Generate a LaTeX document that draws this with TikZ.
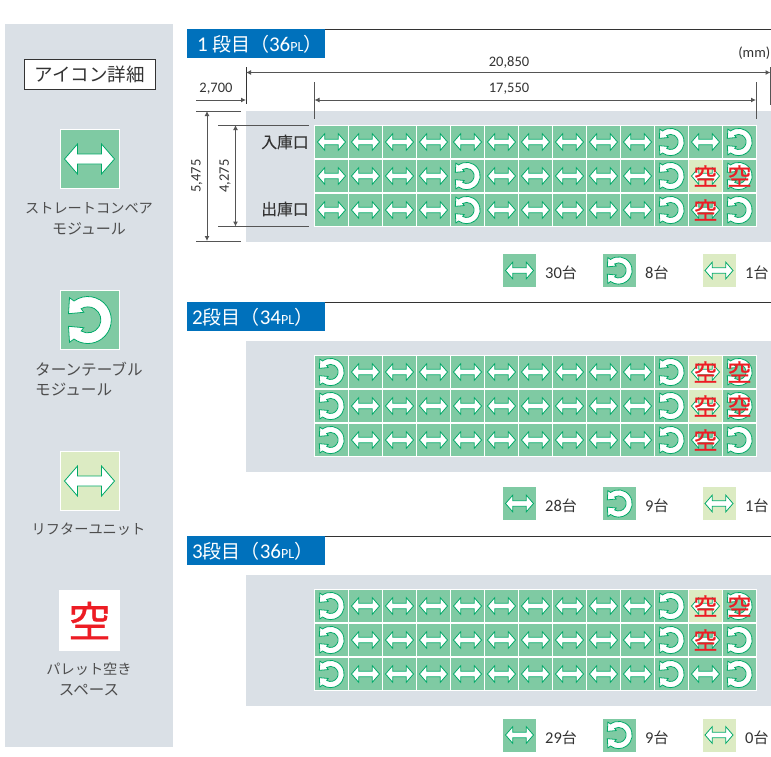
\documentclass[tikz,border=0pt]{standalone}
\usepackage{fontspec}
\setmainfont{Noto Sans CJK JP}
\newfontfamily\numf{Carlito}
\newfontfamily\kuf[FakeBold=0.8]{Noto Sans CJK JP}
\newfontfamily\medf[FakeBold=0.15]{Noto Sans CJK JP}
\usetikzlibrary{arrows.meta}
\definecolor{panel}{HTML}{DAE0E6}
\definecolor{modgreen}{HTML}{7FCAA3}
\definecolor{edgegreen}{HTML}{00A968}
\definecolor{liftgreen}{HTML}{DCEBC3}
\definecolor{headblue}{HTML}{0071BC}
\definecolor{kured}{HTML}{ED1C24}
\definecolor{ink}{HTML}{333333}
\definecolor{softink}{HTML}{4D4D4D}
\definecolor{dimline}{HTML}{555555}
\tikzset{
  iconline/.style={draw=edgegreen,fill=white,line width=0.8pt,line join=miter},
  txt/.style={inner sep=0pt,text=ink},
  sidelabel/.style={inner sep=0pt,text=softink,font=\fontsize{14.2}{16}\selectfont},
  dimtext/.style={inner sep=0pt,text=ink,font=\numf\fontsize{14.5}{16}\selectfont},
  countlabel/.style={inner sep=0pt,text=ink,anchor=west,font=\fontsize{15}{17}\selectfont},
  headbox/.style={fill=headblue,draw=none,inner sep=0pt,anchor=north west,minimum width=138pt,minimum height=29pt},
  headtext/.style={inner sep=0pt,text=white,anchor=west,font=\fontsize{19}{21}\selectfont},
  dimrule/.style={draw=dimline,line width=1pt},
  dimarrow/.style={draw=dimline,line width=1pt,{Latex[length=5pt,width=5pt]}-{Latex[length=5pt,width=5pt]}},
}
\newcommand\plate[4]{\fill[#1] ({#2-#4},{#3-#4}) rectangle ({#2+#4},{#3+#4});}
\newcommand\sarrow[3]{\path[iconline,shift={(#1,#2)},scale=#3]
  (-25,0) -- (-12,-15) -- (-12,-5) -- (12,-5) -- (12,-15) -- (25,0) -- (12,15) -- (12,5) -- (-12,5) -- (-12,15) -- cycle;}
\newcommand\tarrow[3]{\path[iconline,shift={(#1,#2)},scale=#3]
  (-20,-22.3) -- (-15.5,-19) arc[start angle=234,end angle=486,radius=23.5]
  -- (-20,22.3) -- (-21,6.3) -- (-5.7,7.7) -- (-8.3,11)
  arc[start angle=481,end angle=239,radius=13]
  -- (-5.7,-7.7) -- (-21,-6.3) -- cycle;}
\newcommand\kuchar[3]{\node[inner sep=0pt,text=kured,font=\kuf\fontsize{#3}{#3}\selectfont] at (#1,#2) {空};}
% small cells
\newcommand\cellS[2]{\plate{modgreen}{#1}{#2}{16.3}\sarrow{#1}{#2}{0.56}}
\newcommand\cellT[2]{\plate{modgreen}{#1}{#2}{16.3}\tarrow{#1}{#2}{0.58}}
\newcommand\cellL[2]{\plate{liftgreen}{#1}{#2}{16.3}\sarrow{#1}{#2}{0.56}}
\newcommand\cellSK[2]{\cellS{#1}{#2}\kuchar{#1}{#2}{24}}
\newcommand\cellTK[2]{\cellT{#1}{#2}\kuchar{#1}{#2}{24}}
\newcommand\cellLK[2]{\cellL{#1}{#2}\kuchar{#1}{#2}{24}}
% one row of 13 cells: y centre, list of types
\newcommand\gridrow[2]{\foreach \t [count=\c from 0] in {#2} {
  \pgfmathsetmacro\cx{331.5+34*\c}
  \csname cell\t\endcsname{\cx}{#1}}}
\begin{document}
\begin{tikzpicture}[x=1pt,y=-1pt]
\useasboundingbox (0,0) rectangle (771,756);
\fill[white] (0,0) rectangle (771,756);
% side panel
\fill[panel] (5,24) rectangle (173,747);
\node[draw=ink,line width=0.8pt,fill=white,minimum width=131pt,minimum height=30pt,inner sep=0pt,text=ink,font=\fontsize{18.5}{20}\selectfont] (icontitle) at (89.5,74) {アイコン詳細};
\fill[white] (59.5,129) rectangle (119.5,189);
\plate{modgreen}{89.5}{159}{29}\sarrow{89.5}{159}{1}
\node[sidelabel] (labA) at (89,208) {ストレートコンベア};
\node[sidelabel,font=\fontsize{15}{16}\selectfont] (labB) at (89,229) {モジュール};
\fill[white] (59.5,290) rectangle (119.5,350);
\plate{modgreen}{89.5}{320}{29}\tarrow{89.5}{320}{1}
\node[sidelabel,anchor=west,font=\fontsize{15.6}{16}\selectfont] (labC) at (35,369) {ターンテーブル};
\node[sidelabel,anchor=west,font=\fontsize{15.6}{16}\selectfont] (labD) at (35,390) {モジュール};
\fill[white] (59.5,451) rectangle (119.5,511);
\plate{liftgreen}{89.5}{481}{29}\sarrow{89.5}{481}{1}
\node[sidelabel] (labE) at (88.5,529) {リフターユニット};
\fill[white] (59,590) rectangle (120,651);
\kuchar{89.5}{620.5}{42}
\node[sidelabel] (labF) at (89,669) {パレット空き};
\node[sidelabel,font=\fontsize{15.5}{16}\selectfont] (labG) at (89,690) {スペース};
% section bands
\fill[panel] (246,111) rectangle (771,242);
\fill[panel] (246,341) rectangle (771,472);
\fill[panel] (246,575) rectangle (771,706);
% section headers
\draw[ink,line width=1pt] (187,29.5) -- (771,29.5);
\draw[ink,line width=1pt] (187,302.5) -- (771,302.5);
\draw[ink,line width=1pt] (187,536.5) -- (771,536.5);
\node[headbox] (headA) at (187,29) {};
\node[headbox] (headB) at (187,302) {};
\node[headbox] (headC) at (187,536) {};
\node[headtext] (headAt) at (197,44) {{\numf\fontsize{21}{21}\selectfont 1} 段目（{\numf\fontsize{21}{21}\selectfont 36{\fontsize{14}{14}\selectfont PL}}）};
\node[headtext] (headBt) at (192,317) {{\numf\fontsize{21}{21}\selectfont 2}段目（{\numf\fontsize{21}{21}\selectfont 34{\fontsize{14}{14}\selectfont PL}}）};
\node[headtext] (headCt) at (192,551) {{\numf\fontsize{21}{21}\selectfont 3}段目（{\numf\fontsize{21}{21}\selectfont 36{\fontsize{14}{14}\selectfont PL}}）};
% grids
\fill[white] (314,125) rectangle (756.5,227);
\gridrow{142}{S,S,S,S,S,S,S,S,S,S,T,S,T}
\gridrow{176}{S,S,S,S,T,S,S,S,S,S,T,LK,TK}
\gridrow{210}{S,S,S,S,T,S,S,S,S,S,T,SK,T}
\fill[white] (314,355) rectangle (756.5,457);
\gridrow{372}{T,S,S,S,S,S,S,S,S,S,T,LK,TK}
\gridrow{406}{T,S,S,S,S,S,S,S,S,S,T,LK,TK}
\gridrow{440}{T,S,S,S,S,S,S,S,S,S,T,SK,T}
\fill[white] (314,589) rectangle (756.5,691);
\gridrow{606}{T,S,S,S,S,S,S,S,S,S,T,LK,TK}
\gridrow{640}{T,S,S,S,S,S,S,S,S,S,T,SK,T}
\gridrow{674}{T,S,S,S,S,S,S,S,S,S,T,S,T}
% dimensions
\coordinate (wa) at (246,67); \coordinate (wb) at (246,104);
\coordinate (wc) at (770.5,67); \coordinate (wd) at (770.5,105);
\coordinate (xa) at (314.5,82); \coordinate (xb) at (314.5,119);
\coordinate (xc) at (756,82); \coordinate (xd) at (756,119);
\draw[ink,line width=0.9pt] (wa) -- (wb);
\draw[dimrule] (wc) -- (wd);
\draw[dimrule] (xa) -- (xb);
\draw[dimrule] (xc) -- (xd);
\coordinate (l1a) at (246,72.5); \coordinate (l1b) at (770.5,72.5);
\draw[dimarrow] (l1a) -- (l1b);
\coordinate (l2a) at (314.5,100); \coordinate (l2b) at (756,100);
\draw[dimarrow] (l2a) -- (l2b);
\coordinate (l3a) at (196,100); \coordinate (l3b) at (246,100);
\draw[dimline,line width=1pt,-{Latex[length=5pt,width=5pt]}] (l3a) -- (l3b);
\coordinate (t1a) at (196,111); \coordinate (t1b) at (241,111);
\coordinate (t2a) at (196,241); \coordinate (t2b) at (241,241);
\coordinate (t3a) at (218,125); \coordinate (t3b) at (309,125);
\coordinate (t4a) at (218,226.5); \coordinate (t4b) at (309,226.5);
\draw[dimrule] (t1a) -- (t1b);
\draw[dimrule] (t2a) -- (t2b);
\draw[dimrule] (t3a) -- (t3b);
\draw[dimrule] (t4a) -- (t4b);
\coordinate (v1a) at (207,111); \coordinate (v1b) at (207,241);
\coordinate (v2a) at (235.5,125); \coordinate (v2b) at (235.5,226.5);
\draw[dimarrow] (v1a) -- (v1b);
\draw[dimarrow] (v2a) -- (v2b);
\node[dimtext] (dA) at (509,62) {20,850};
\node[dimtext] (dB) at (509,88.5) {17,550};
\node[dimtext] (dC) at (216,89) {2,700};
\node[dimtext,anchor=east] (dD) at (770.5,53) {(mm)};
\node[dimtext,rotate=90] (dE) at (197,176) {5,475};
\node[dimtext,rotate=90] (dF) at (225,176) {4,275};
\node[txt,font=\medf\fontsize{15.8}{17}\selectfont] (inl) at (285,142) {入庫口};
\node[txt,font=\medf\fontsize{15.8}{17}\selectfont] (outl) at (285,209) {出庫口};
% legends
\foreach \ly/\na/\nb/\nc in {270.5/30/8/1,503.5/28/9/1,735/29/9/0}{
  \plate{modgreen}{519.5}{\ly}{16.5}\sarrow{519.5}{\ly}{0.56}
  \plate{modgreen}{619.5}{\ly}{16.5}\tarrow{619.5}{\ly}{0.58}
  \plate{liftgreen}{719}{\ly}{16.5}\sarrow{719}{\ly}{0.56}
  \node[countlabel] at (545,\ly+2.5) {{\numf\fontsize{16.5}{17}\selectfont\na}台};
  \node[countlabel] at (645,\ly+2.5) {{\numf\fontsize{16.5}{17}\selectfont\nb}台};
  \node[countlabel] at (745,\ly+2.5) {{\numf\fontsize{16.5}{17}\selectfont\nc}台};
}
\end{tikzpicture}
\end{document}
